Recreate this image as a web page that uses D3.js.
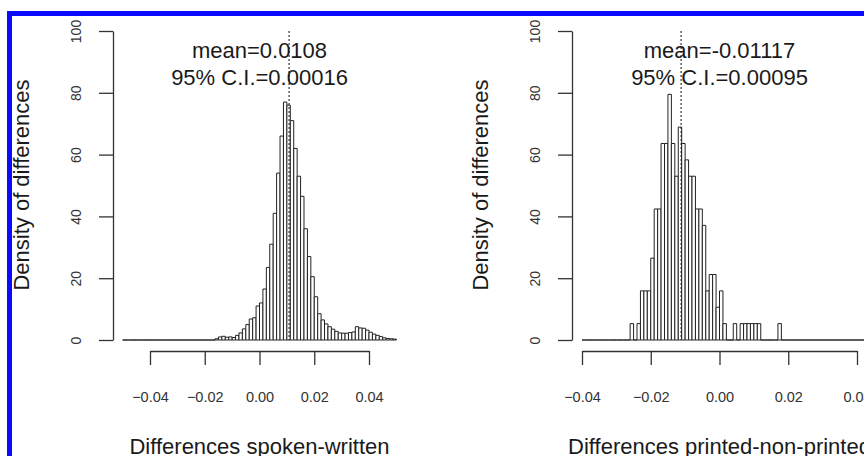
<!DOCTYPE html>
<html>
<head>
<meta charset="utf-8">
<script src="https://cdn.jsdelivr.net/npm/d3@7"></script>
<style>
  html, body { margin: 0; padding: 0; background: #fff; overflow: hidden; }
  svg { display: block; font-family: "Liberation Sans", Arial, Helvetica, sans-serif; }
</style>
</head>
<body>
<svg id="chart" width="864" height="456"></svg>
<script>
// Histogram densities, one value per bin.
// Spoken-written: 80 bins of width 0.00125 spanning [-0.05, 0.05].
const spokenRange = [-0.05, 0.05];
const spokenDensity = [
  0, 0, 0, 0, 0, 0, 0, 0, 0, 0,
  0, 0, 0, 0, 0, 0, 0, 0, 0, 0,
  0, 0, 0, 0, 0, 0, 0, 0.4, 1.0, 1.2,
  0.9, 1.0, 0.8, 1.5, 2.3, 3.6, 5.0, 6.8, 7.2, 11.0,
  12.0, 16.5, 23.5, 31, 41, 54, 66, 77, 76, 71,
  62, 53, 46.5, 36, 27, 20.5, 14, 8.5, 6.5, 5.2,
  4.3, 3.5, 2.8, 2.3, 2.2, 2.2, 2.4, 2.6, 4.3, 3.9,
  3.8, 3.2, 2.5, 1.9, 1.5, 1.1, 0.7, 0.5, 0.4, 0.3
];

// Printed-non-printed: 90 bins of width 0.001 spanning [-0.04, 0.05].
const printedRange = [-0.04, 0.05];
const printedDensity = [
  0, 0, 0, 0, 0, 0, 0, 0, 0, 0,
  0, 0, 0, 0, 5.3, 0, 5.3, 15.9, 15.9, 15.9,
  26.5, 42.4, 42.4, 63.6, 63.6, 79.5, 63.6, 53.0, 68.9, 63.6,
  58.3, 53.0, 53.0, 42.4, 42.4, 37.1, 15.9, 21.2, 21.2, 10.6,
  15.9, 5.3, 0, 0, 5.3, 0, 5.3, 5.3, 5.3, 5.3,
  5.3, 5.3, 0, 0, 0, 0, 0, 5.3, 0, 0,
  0, 0, 0, 0, 0, 0, 0, 0, 0, 0,
  0, 0, 0, 0, 0, 0, 0, 0, 0, 0,
  0, 0, 0, 0, 0, 0, 0, 0, 0, 0
];

const meanValues = [0.0108, -0.01117];
const ciValues = [0.00016, 0.00095];
const xTitles = ["Differences spoken-written", "Differences printed-non-printed"];
const yTitle = "Density of differences";
const xTicks = [-0.04, -0.02, 0, 0.02, 0.04];
const yTicks = [0, 20, 40, 60, 80, 100];

const svg = d3.select("#chart");

// Blue frame around the figure (runs off the right and bottom edges)
svg.append("rect")
  .attr("x", 9.5).attr("y", 13.5)
  .attr("width", 1000).attr("height", 600)
  .attr("fill", "none")
  .attr("stroke", "#0a0aff")
  .attr("stroke-width", 5);

const panels = [
  { data: spokenDensity, range: spokenRange, xRange: [150, 369], yAxisX: 113 },
  { data: printedDensity, range: printedRange, xRange: [582, 857], yAxisX: 572 }
];

const ink = "#222";
const axisInk = "#333";

panels.forEach((p, i) => {
  const g = svg.append("g");
  const x = d3.scaleLinear().domain([-0.04, 0.04]).range(p.xRange);
  const y = d3.scaleLinear().domain([0, 100]).range([340, 31]);

  // bins
  const n = p.data.length;
  const w = (p.range[1] - p.range[0]) / n;
  const bins = p.data.map((d, k) => ({ x0: p.range[0] + k * w, x1: p.range[0] + (k + 1) * w, d }));

  g.append("g").selectAll("path")
    .data(bins)
    .join("path")
    .attr("d", b => `M${x(b.x0)},${y(0)}V${y(b.d)}H${x(b.x1)}V${y(0)}Z`)
    .attr("fill", "#fff")
    .attr("stroke", ink)
    .attr("stroke-width", 1);

  // mean line
  g.append("line")
    .attr("x1", x(meanValues[i])).attr("x2", x(meanValues[i]))
    .attr("y1", y(100)).attr("y2", y(0))
    .attr("stroke", ink)
    .attr("stroke-width", 1.1)
    .attr("stroke-dasharray", "2,2");

  // x axis
  const xa = g.append("g")
    .attr("transform", "translate(0,351)")
    .call(d3.axisBottom(x).tickValues(xTicks).tickSize(14).tickSizeOuter(0)
      .tickPadding(27).tickFormat(d3.format(".2f")));
  xa.select(".domain").attr("stroke", axisInk).attr("stroke-width", 1.3);
  xa.selectAll(".tick line").attr("stroke", axisInk).attr("stroke-width", 1.3);
  xa.selectAll(".tick text")
    .attr("fill", "#333")
    .style("font-size", "14.5px")
    .style("font-family", "\"Liberation Sans\", Arial, sans-serif");

  // y axis
  const ya = g.append("g")
    .attr("transform", `translate(${p.yAxisX},0)`)
    .call(d3.axisLeft(y).tickValues(yTicks).tickSize(14).tickSizeOuter(0));
  ya.select(".domain").attr("stroke", axisInk).attr("stroke-width", 1.3);
  ya.selectAll(".tick line").attr("stroke", axisInk).attr("stroke-width", 1.3);
  ya.selectAll(".tick text")
    .attr("x", null).attr("dy", null)
    .attr("text-anchor", "middle")
    .attr("transform", "translate(-32,0) rotate(-90)")
    .attr("fill", "#333")
    .style("font-size", "14px")
    .style("font-family", "\"Liberation Sans\", Arial, sans-serif");

  // headings
  const cx = x(0);
  g.append("text")
    .attr("x", cx).attr("y", 58)
    .attr("text-anchor", "middle")
    .attr("fill", "#1a1a1a")
    .style("font-size", "22px")
    .text("mean=" + String(meanValues[i]));
  g.append("text")
    .attr("x", cx).attr("y", 85)
    .attr("text-anchor", "middle")
    .attr("fill", "#1a1a1a")
    .style("font-size", "22px")
    .text("95% C.I.=" + String(ciValues[i]));

  // axis titles
  g.append("text")
    .attr("x", cx).attr("y", 454)
    .attr("text-anchor", "middle")
    .attr("fill", "#1a1a1a")
    .style("font-size", "22px")
    .text(xTitles[i]);
  g.append("text")
    .attr("transform", `translate(${p.yAxisX - 84},185) rotate(-90)`)
    .attr("text-anchor", "middle")
    .attr("fill", "#1a1a1a")
    .style("font-size", "22px")
    .text(yTitle);
});
</script>
</body>
</html>
